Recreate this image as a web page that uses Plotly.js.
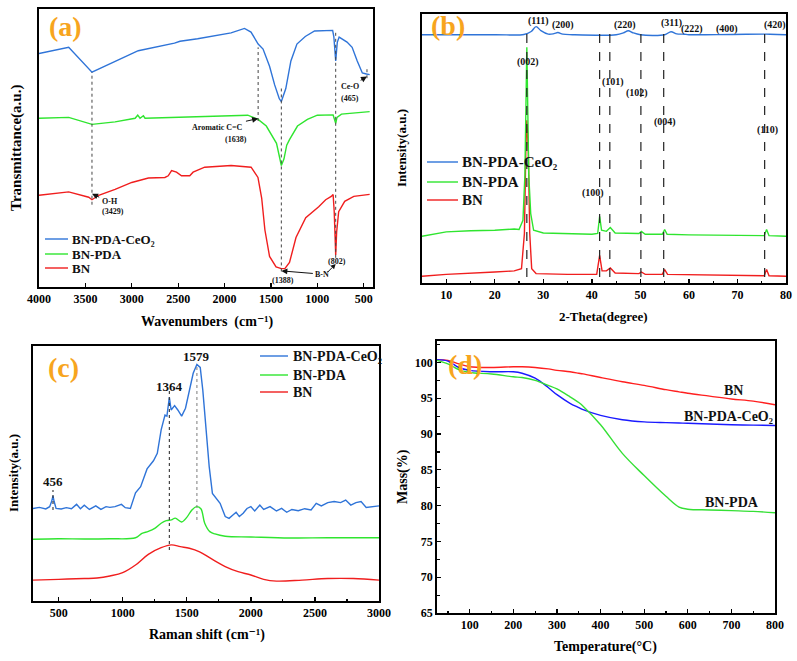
<!DOCTYPE html>
<html>
<head>
<meta charset="utf-8">
<script src="https://cdn.plot.ly/plotly-3.0.1.min.js"></script>
<style>
  html, body { margin: 0; padding: 0; background: #fff; }
  #chart { width: 797px; height: 661px; }
</style>
</head>
<body>
<div id="chart"></div>
<script>
// ---------- (a) FTIR spectra ----------
const ftirWnCeO2 = [4000, 3680, 3429, 3250, 3000, 2930, 2540, 2480, 2290, 1930, 1785, 1715, 1638, 1585, 1515, 1460, 1410, 1388, 1340, 1285, 1220, 1130, 1030, 900, 835, 822, 802, 785, 765, 680, 625, 570, 515, 470, 436];
const ftirCeO2   = [84.0, 86.2, 77.3, 80.0, 83.7, 85.0, 87.7, 88.4, 89.3, 91.4, 93.0, 91.7, 87.4, 85.6, 79.4, 72.7, 67.7, 66.7, 71.4, 81.3, 87.4, 90.1, 92.1, 92.4, 92.3, 90.0, 81.3, 88.0, 89.9, 88.1, 86.2, 81.3, 77.0, 76.6, 76.4];

const ftirWnPDA = [4000, 3680, 3429, 3180, 2964, 2936, 2911, 2875, 2857, 2286, 1750, 1638, 1550, 1440, 1410, 1388, 1360, 1330, 1300, 1214, 1107, 1000, 830, 815, 802, 788, 740, 436];
const ftirPDA   = [60.7, 61.0, 58.5, 59.4, 60.7, 61.8, 60.7, 61.6, 60.7, 61.3, 61.8, 60.3, 57.9, 51.7, 46.5, 43.7, 46.0, 51.0, 53.0, 57.9, 60.3, 61.8, 61.9, 60.3, 58.9, 61.0, 62.2, 63.1];

const ftirWnBN = [4000, 3680, 3464, 3429, 3357, 3180, 3000, 2821, 2643, 2607, 2571, 2518, 2464, 2375, 2339, 2214, 1929, 1714, 1640, 1600, 1565, 1515, 1445, 1388, 1350, 1300, 1230, 1125, 985, 910, 850, 830, 818, 802, 792, 770, 705, 607, 436];
const ftirBN   = [33.0, 34.2, 32.3, 31.4, 33.0, 35.1, 37.6, 39.2, 39.4, 40.0, 41.9, 41.3, 40.0, 40.0, 41.3, 43.1, 43.7, 43.1, 39.4, 32.0, 20.5, 11.0, 7.2, 6.6, 6.6, 8.8, 17.8, 24.9, 28.9, 31.4, 32.6, 33.3, 27.1, 11.5, 19.7, 27.1, 30.8, 32.6, 33.3];

// guide lines through the assigned bands
const ftirBands    = [3429, 1638, 1388, 802, 465];
const ftirBandTop  = [77.3, 86.2, 71.4, 92.4, 78.8];
const ftirBandBot  = [29.6, 59.7, 5.6, 10.5, 75.1];

// ---------- (b) XRD patterns ----------
const xrdThCeO2 = [5, 20, 26, 27.5, 28.5, 29.5, 31, 32.2, 33, 34, 36, 45, 46.5, 47.5, 48.5, 50, 55, 56.3, 57.5, 59, 60, 69, 76.7, 80];
const xrdCeO2   = [92.3, 92.3, 92.4, 93.5, 95.3, 93.8, 92.5, 92.7, 93.1, 92.5, 92.3, 92.3, 93.0, 93.8, 93.0, 92.3, 92.3, 93.4, 92.6, 92.5, 92.3, 92.4, 92.5, 92.3];

const xrdThPDA = [5, 10, 15, 20, 24, 25, 25.8, 26.2, 26.45, 26.6, 26.75, 27.0, 27.4, 28, 30, 35, 40, 41.2, 41.6, 42, 43, 43.8, 44.8, 49.7, 50.2, 51, 54.5, 55, 55.5, 60, 70, 75.5, 76, 76.5, 80];
const xrdPDA   = [17.4, 19.0, 19.4, 19.6, 20.1, 19.9, 23.3, 40.0, 70.0, 87.6, 70.0, 40.0, 25.8, 19.6, 18.6, 18.4, 18.1, 18.4, 24.8, 19.6, 19.2, 20.6, 18.6, 18.4, 19.2, 18.1, 18.1, 19.9, 18.1, 17.9, 17.6, 17.6, 19.9, 17.6, 17.4];

const xrdThBN = [5, 10, 20, 24, 25.5, 26.1, 26.4, 26.6, 26.9, 27.2, 27.6, 28.5, 35, 41, 41.6, 42.1, 43, 43.8, 44.8, 49.7, 50.2, 51, 54.5, 55, 55.6, 75.5, 76, 76.5, 80];
const xrdBN   = [2.5, 3.2, 4.1, 4.5, 5.3, 18.4, 50.0, 60.5, 50.0, 18.4, 5.3, 3.5, 3.2, 3.2, 10.3, 4.5, 4.5, 5.6, 3.7, 3.5, 4.1, 3.2, 3.2, 5.0, 3.2, 2.7, 5.0, 2.7, 2.5];

const xrdRefLines = [26.6, 41.6, 43.7, 50.1, 54.8, 75.6];
const xrdPlanes   = ['(111)', '(200)', '(220)', '(311)', '(222)', '(400)', '(420)', '(002)', '(101)', '(102)', '(004)', '(110)', '(100)'];
const xrdPlaneX   = [29.0, 34.1, 46.8, 56.5, 60.6, 67.8, 77.7, 26.9, 44.4, 49.3, 55.1, 76.1, 40.3];
const xrdPlaneY   = [97.5, 95.9, 95.9, 96.5, 94.3, 94.3, 95.9, 82.3, 74.8, 70.5, 59.9, 56.8, 33.3];

// ---------- (c) Raman spectra ----------
const ramanXCeO2 = [300, 350, 400, 430, 445, 456, 465, 480, 520, 560, 600, 640, 670, 700, 740, 790, 830, 870, 900, 940, 990, 1020, 1060, 1100, 1140, 1190, 1240, 1270, 1300, 1330, 1345, 1364, 1378, 1405, 1430, 1460, 1490, 1520, 1550, 1579, 1605, 1625, 1650, 1675, 1700, 1730, 1760, 1800, 1830, 1860, 1885, 1910, 1940, 1970, 2000, 2030, 2070, 2100, 2150, 2200, 2240, 2280, 2320, 2370, 2420, 2470, 2510, 2550, 2600, 2650, 2700, 2740, 2780, 2820, 2860, 2900, 2950, 3000];
const ramanCeO2  = [36.3, 36.7, 36.1, 37.0, 39.0, 41.2, 39.0, 36.3, 36.1, 36.6, 36.2, 37.9, 36.2, 37.6, 35.9, 37.3, 35.9, 37.0, 36.7, 37.0, 37.9, 36.6, 36.3, 42.4, 44.8, 51.8, 55.0, 57.9, 67.1, 72.9, 72.5, 79.9, 74.9, 76.6, 74.9, 72.5, 75.6, 82.7, 89.3, 92.8, 91.6, 82.7, 67.1, 52.7, 42.2, 40.3, 38.3, 33.1, 32.4, 33.7, 34.8, 33.1, 34.4, 36.3, 37.0, 35.3, 37.6, 35.9, 37.0, 35.3, 36.3, 34.8, 35.9, 35.4, 36.2, 35.7, 38.3, 37.3, 38.6, 39.0, 38.6, 39.6, 37.6, 38.6, 39.0, 36.7, 37.0, 37.3];

const ramanXPDA = [300, 500, 700, 900, 1100, 1150, 1200, 1250, 1300, 1340, 1380, 1410, 1460, 1500, 1540, 1575, 1610, 1640, 1680, 1720, 1800, 2000, 2300, 2600, 3000];
const ramanPDA  = [24.2, 24.4, 24.3, 24.4, 24.8, 26.5, 27.3, 28.5, 30.5, 31.5, 31.8, 32.5, 31.0, 32.8, 35.7, 37.0, 36.2, 30.5, 27.2, 26.3, 25.4, 25.1, 24.7, 24.8, 24.8];

const ramanXBN = [300, 500, 700, 800, 900, 1000, 1100, 1200, 1300, 1380, 1450, 1520, 1600, 1700, 1800, 1900, 2000, 2100, 2200, 2400, 2600, 2800, 3000];
const ramanBN  = [8.2, 8.5, 8.8, 9.0, 9.8, 11.1, 14.1, 18.3, 20.9, 22.0, 21.3, 20.7, 19.3, 16.3, 13.5, 11.5, 10.2, 8.5, 7.8, 8.2, 8.8, 8.8, 8.2];

const ramanPeaks    = [456, 1364, 1579];
const ramanPeakTop  = [43.5, 82.7, 91.9];
const ramanPeakBot  = [35.7, 20.0, 31.8];
const ramanLabelY   = [46.8, 84.3, 95.8];

// ---------- (d) TGA curves ----------
const tgaT      = [25, 50, 75, 100, 150, 200, 220, 250, 280, 300, 330, 350, 360, 400, 450, 500, 550, 580, 600, 650, 700, 750, 800];
const tgaBN     = [100.4, 100.3, 99.8, 99.4, 99.3, 99.4, 99.4, 99.3, 99.1, 98.9, 98.7, 98.5, 98.4, 97.9, 97.3, 96.8, 96.2, 95.9, 95.7, 95.3, 94.9, 94.6, 94.1];
const tgaCeO2   = [100.4, 100.2, 99.3, 98.9, 98.7, 98.7, 98.5, 97.8, 96.5, 95.5, 94.3, 93.7, 93.4, 92.6, 92.0, 91.7, 91.6, 91.55, 91.5, 91.4, 91.3, 91.25, 91.2];
const tgaPDA    = [100.3, 99.8, 99.0, 98.6, 98.4, 98.0, 97.9, 97.5, 96.8, 96.3, 95.2, 94.4, 93.9, 91.3, 87.3, 84.2, 81.3, 79.8, 79.5, 79.4, 79.3, 79.2, 79.0];

// ---------- styling ----------
const SERIF = 'Liberation Serif, DejaVu Serif, serif';
const C = { blue: '#2f74d8', green: '#2fe52f', red: '#f01e1e', dBlue: '#1a1aff', dRed: '#ff1f1f', dGreen: '#35e035', tag: '#F7A51E' };
const W = 797, H = 661;
const X = px => px / W;
const Y = py => 1 - py / H;

// pixel frame of panel (a), shared by its axes and the hand-drawn arrow
const frameA = { left: 39, right: 373, top: 9, bottom: 287, xr: [4000, 400], yr: [0, 100] };

function line(x, y, color, xa, ya, shape) {
  return { type: 'scatter', mode: 'lines', x: x, y: y, xaxis: xa, yaxis: ya,
           line: { color: color, width: 1.4, shape: shape || 'linear' }, hoverinfo: 'skip', showlegend: false };
}

const traces = [
  line(ftirWnCeO2, ftirCeO2, C.blue, 'x', 'y'),
  line(ftirWnPDA, ftirPDA, C.green, 'x', 'y'),
  line(ftirWnBN, ftirBN, C.red, 'x', 'y'),
  line(xrdThCeO2, xrdCeO2, C.blue, 'x2', 'y2', 'spline'),
  line(xrdThBN, xrdBN, C.red, 'x2', 'y2'),
  line(xrdThPDA, xrdPDA, C.green, 'x2', 'y2'),
  line(ramanXCeO2, ramanCeO2, C.blue, 'x3', 'y3'),
  line(ramanXPDA, ramanPDA, C.green, 'x3', 'y3', 'spline'),
  line(ramanXBN, ramanBN, C.red, 'x3', 'y3', 'spline'),
  line(tgaT, tgaBN, C.dRed, 'x4', 'y4', 'spline'),
  line(tgaT, tgaCeO2, C.dBlue, 'x4', 'y4', 'spline'),
  line(tgaT, tgaPDA, C.dGreen, 'x4', 'y4', 'spline')
];

const tickFont = { family: SERIF, size: 12, color: '#000', weight: 'bold' };
function xAxis(domain, anchor, range, dtick, minorDtick) {
  const ax = { domain: domain, anchor: anchor, range: range, dtick: dtick, tick0: 0,
    ticks: 'inside', ticklen: 4, tickwidth: 1.3, tickcolor: '#000',
    showline: true, mirror: true, linecolor: '#000', linewidth: 1.8,
    showgrid: false, zeroline: false, tickfont: tickFont, fixedrange: true };
  if (minorDtick) ax.minor = { dtick: minorDtick, ticks: 'inside', ticklen: 2.5, tickwidth: 1.2, tickcolor: '#000', showgrid: false };
  return ax;
}
function yBlank(domain, anchor, range) {
  return { domain: domain, anchor: anchor, range: range, showticklabels: false, ticks: '',
    showline: true, mirror: true, linecolor: '#000', linewidth: 1.8,
    showgrid: false, zeroline: false, fixedrange: true };
}

const shapes = [];
const annotations = [];

// dotted band guides in (a)
ftirBands.forEach((b, i) => shapes.push({ type: 'line', xref: 'x', yref: 'y', x0: b, x1: b,
  y0: ftirBandBot[i], y1: ftirBandTop[i], line: { color: '#444', width: 1, dash: 'dot' } }));
// dashed reflection guides in (b)
xrdRefLines.forEach(v => shapes.push({ type: 'line', xref: 'x2', yref: 'y2', x0: v, x1: v,
  y0: 2.2, y1: v === 26.6 ? 94.5 : 92.8, line: { color: '#222', width: 1.2, dash: 'dash' } }));
// dotted peak guides in (c)
ramanPeaks.forEach((p, i) => shapes.push({ type: 'line', xref: 'x3', yref: 'y3', x0: p, x1: p,
  y0: ramanPeakBot[i], y1: ramanPeakTop[i], line: { color: i === 2 ? '#888' : '#333', width: 1.1, dash: 'dot' } }));

// legend keys drawn in paper space
function legend(x0, x1, textX, rows, names, colors, size) {
  rows.forEach((r, i) => {
    shapes.push({ type: 'line', xref: 'paper', yref: 'paper', x0: X(x0), x1: X(x1), y0: Y(r), y1: Y(r),
      line: { color: colors[i], width: 1.4 } });
    annotations.push({ xref: 'paper', yref: 'paper', x: X(textX), y: Y(r), xanchor: 'left', yanchor: 'middle',
      text: names[i], showarrow: false, font: { family: SERIF, size: size, color: '#111', weight: 'bold' } });
  });
}
const names = ['BN-PDA-CeO₂', 'BN-PDA', 'BN'];
legend(45, 68, 70, [239, 254, 268], names, [C.blue, C.green, C.red], 13);
legend(427, 458, 460, [162, 182, 200], names, [C.blue, C.green, C.red], 15);
legend(260, 288, 291, [356, 375, 392], names, [C.blue, C.green, C.red], 14);

// panel tags
[['(a)', 65, 27], ['(b)', 448, 25], ['(c)', 63, 367], ['(d)', 465, 364]].forEach(t =>
  annotations.push({ xref: 'paper', yref: 'paper', x: X(t[1]), y: Y(t[2]), xanchor: 'center', yanchor: 'middle',
    text: t[0], showarrow: false, font: { family: SERIF, size: 28, color: C.tag, weight: 'bold' } }));

// axis titles
function title(text, px, py, angle, size) {
  annotations.push({ xref: 'paper', yref: 'paper', x: X(px), y: Y(py), xanchor: 'center', yanchor: 'middle',
    text: text, textangle: angle, showarrow: false, font: { family: SERIF, size: size, color: '#000', weight: 'bold' } });
}
title('Wavenumbers  (cm⁻¹)', 207, 322, 0, 14);
title('Transmittance(a.u.)', 17, 148, -90, 15);
title('2-Theta(degree)', 603, 316, 0, 13);
title('Intensity(a.u.)', 402, 148, -90, 13);
title('Raman shift (cm⁻¹)', 207, 635, 0, 14);
title('Intensity(a.u.)', 13, 473, -90, 13);
title('Temperature(°C)', 605, 647, 0, 14);
title('Mass(%)', 403, 477, -90, 14);

// text notes; with a tip given, the note carries an arrow pointing at it
const small = { family: SERIF, size: 8, color: '#111', weight: 'bold' };
function note(xa, ya, x, y, text, size, tip) {
  const a = { xref: xa, yref: ya, text: text, font: Object.assign({}, small, size ? { size: size } : {}) };
  if (tip) {
    Object.assign(a, { x: tip[0], y: tip[1], axref: xa, ayref: ya, ax: x, ay: y, showarrow: true,
      arrowhead: 2, arrowsize: 1.2, arrowwidth: 1, arrowcolor: '#111', standoff: 0, startstandoff: 1 });
  } else {
    Object.assign(a, { x: x, y: y, showarrow: false });
  }
  annotations.push(a);
}

// (a) band assignments
note('x', 'y', 3239, 30.6, 'O-H', null, [ftirBands[0], 33.5]);
note('x', 'y', 3207, 27.3, '(3429)');
note('x', 'y', 2071, 57.4, 'Aromatic C=C', null, [ftirBands[1], 60.6]);
note('x', 'y', 1875, 53.0, '(1638)');
note('x', 'y', 946, 4.6, 'B-N', null, [ftirBands[2], 5.8]);
note('x', 'y', 1375, 2.4, '(1388)');
note('x', 'y', 786, 9.3, '(802)');
note('x', 'y', 650, 72.0, 'Ce-O', null, [ftirBands[4], 75.7]);
note('x', 'y', 650, 67.7, '(465)');

// second B-N arrow (towards the 802 band), drawn as a stem plus a filled head
(function () {
  const f = frameA;
  const px = v => f.left + (v - f.xr[0]) / (f.xr[1] - f.xr[0]) * (f.right - f.left);
  const py = v => f.bottom - (v - f.yr[0]) / (f.yr[1] - f.yr[0]) * (f.bottom - f.top);
  const t0 = [px(890), py(5.3)], t1 = [px(ftirBands[3]), py(8.3)];
  const dx = t1[0] - t0[0], dy = t1[1] - t0[1], L = Math.hypot(dx, dy);
  const ux = dx / L, uy = dy / L, nx = -uy, ny = ux, hl = 5, hw = 2.6;
  const b = [t1[0] - hl * ux, t1[1] - hl * uy];
  shapes.push({ type: 'line', xref: 'paper', yref: 'paper', x0: X(t0[0]), y0: Y(t0[1]), x1: X(b[0]), y1: Y(b[1]),
    line: { color: '#111', width: 1 } });
  const pts = [t1, [b[0] + hw * nx, b[1] + hw * ny], [b[0] - hw * nx, b[1] - hw * ny]];
  shapes.push({ type: 'path', xref: 'paper', yref: 'paper', fillcolor: '#111', line: { width: 0 },
    path: 'M' + pts.map(p => X(p[0]) + ',' + Y(p[1])).join(' L') + ' Z' });
})();

// (b) crystal planes
xrdPlanes.forEach((p, i) => note('x2', 'y2', xrdPlaneX[i], xrdPlaneY[i], p, 10));

// (c) peak positions
ramanPeaks.forEach((p, i) => note('x3', 'y3', p, ramanLabelY[i], String(p), 13));

// (d) curve labels
note('x4', 'y4', 704, 96.1, 'BN', 14);
note('x4', 'y4', 693, 92.5, 'BN-PDA-CeO₂', 14);
note('x4', 'y4', 702, 80.5, 'BN-PDA', 14);

const layout = {
  width: W, height: H,
  margin: { l: 0, r: 0, t: 0, b: 0 },
  paper_bgcolor: '#fff', plot_bgcolor: '#fff',
  showlegend: false,
  xaxis:  xAxis([X(frameA.left), X(frameA.right)], 'y', frameA.xr, 500, null),
  yaxis:  yBlank([Y(frameA.bottom), Y(frameA.top)], 'x', frameA.yr),
  xaxis2: xAxis([X(422), X(786)], 'y2', [5, 80], 10, 5),
  yaxis2: yBlank([Y(283), Y(14)], 'x2', [0, 100]),
  xaxis3: xAxis([X(33), X(379)], 'y3', [300, 3000], 500, 250),
  yaxis3: yBlank([Y(601), Y(346)], 'x3', [0, 100]),
  xaxis4: xAxis([X(437), X(775)], 'y4', [25, 800], 100, 50),
  yaxis4: Object.assign(xAxis([Y(613), Y(341)], 'x4', [65, 103], 5, 2.5), { tick0: 0 }),
  shapes: shapes,
  annotations: annotations
};

Plotly.newPlot('chart', traces, layout, { staticPlot: true, displayModeBar: false });
</script>
</body>
</html>
